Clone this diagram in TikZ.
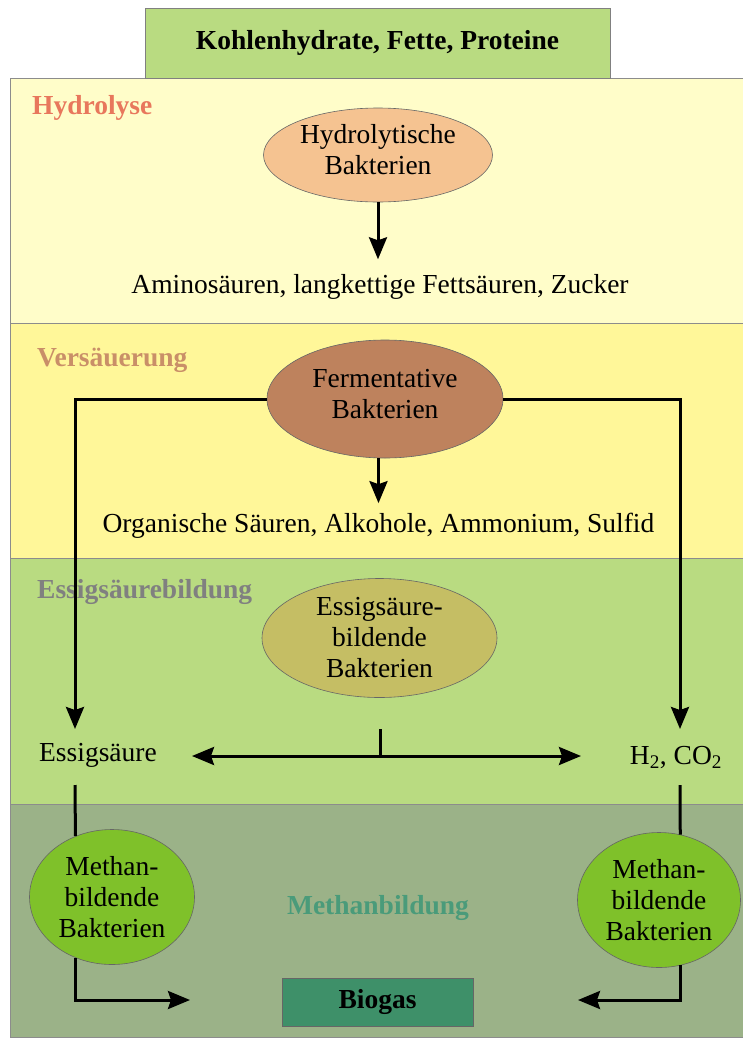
\documentclass[tikz,border=0pt]{standalone}
\usepackage{fontspec}
\setmainfont{Liberation Serif}
\usetikzlibrary{shapes.geometric,arrows.meta}

\definecolor{startgreen}{HTML}{B9DB81}
\definecolor{hydband}{HTML}{FFFDC9}
\definecolor{versband}{HTML}{FFF799}
\definecolor{essigband}{HTML}{B9DB81}
\definecolor{methband}{HTML}{9BB288}
\definecolor{hydbak}{HTML}{F5C391}
\definecolor{fermbak}{HTML}{BE825D}
\definecolor{essigbak}{HTML}{C5BE64}
\definecolor{methbak}{HTML}{7FC12A}
\definecolor{biogasbox}{HTML}{3E9069}
\definecolor{hydtext}{HTML}{E8775C}
\definecolor{verstext}{HTML}{C98F68}
\definecolor{essigtext}{HTML}{808080}
\definecolor{methtext}{HTML}{4A9B7A}

\begin{document}
\begin{tikzpicture}
[
    x=1pt, y=-1pt,
    font=\fontsize{27.5}{31}\selectfont,
    band/.style={draw=black!45, line width=.8pt},
    phase/.style={font=\fontsize{27.5}{31}\selectfont\bfseries, anchor=west, inner sep=2pt},
    label/.style={inner sep=2pt},
    bakt/.style={ellipse, draw=black!60, line width=.6pt, inner sep=0pt, align=center},
    flow/.style={line width=3pt, -{Stealth[length=22pt,width=18pt,inset=3pt]}},
    link/.style={line width=3pt},
]
\useasboundingbox (0,0) rectangle (743,1039);
\fill[white] (0,0) rectangle (743,1039);

% bands
\filldraw[band, fill=hydband] (10,78) rectangle (743,323);
\filldraw[band, fill=versband] (10,323) rectangle (743,558);
\filldraw[band, fill=essigband] (10,558) rectangle (743,804);
\filldraw[band, fill=methband] (10,804) rectangle (743,1037);

\node [draw=black!50, fill=startgreen, minimum width=465pt, minimum height=70pt,
    font=\fontsize{27.5}{31}\selectfont\bfseries] (input) at (377.5,43)
{Kohlenhydrate, Fette, Proteine};

% Hydrolyse
\node [phase, text=hydtext] (hydro) at (30,108) {Hydrolyse};
\node [bakt, fill=hydbak, minimum width=229pt, minimum height=94pt] (hb) at (378,155)
{Hydrolytische\\Bakterien\\[-20pt]};
\node [label] (amino) at (380,287) {Aminosäuren, langkettige Fettsäuren, Zucker};
\draw [flow, shorten >=13pt] (hb.south) -- (hb.south |- amino.north);

% Versaeuerung
\node [phase, text=verstext] (vers) at (35,360) {Versäuerung};
\node [bakt, fill=fermbak, minimum width=236pt, minimum height=118pt] (fb) at (385,399)
{Fermentative\\Bakterien\\[-20pt]};
\node [label] (org) at (378.5,526) {Organische Säuren, Alkohole, Ammonium, Sulfid};
\draw [flow, shorten >=8pt] (fb.south -| org.north) -- (org.north);

% Essigsaeurebildung
\node [phase, text=essigtext] (essbild) at (35,592) {Essigsäurebildung};
\node [bakt, fill=essigbak, minimum width=235pt, minimum height=119pt] (eb) at (379.5,638)
{Essigsäure-\\bildende\\Bakterien};
\node [label] (essig) at (98,755) {Essigsäure};
\node [label] (gas) at (676,757) {H\textsubscript{2}, CO\textsubscript{2}};
\coordinate (essigin) at (75,729);
\coordinate (gasin) at (680,729);
\draw [flow] (fb.west) -| (essigin);
\draw [flow] (fb.east) -| (gasin);
\coordinate (tick) at (380,729);
\coordinate (split) at (380,756);
\coordinate (toessig) at (192,756);
\coordinate (togas) at (581,756);
\draw [link] (tick) -- (split);
\draw [link, {Stealth[length=22pt,width=18pt,inset=3pt]}-{Stealth[length=22pt,width=18pt,inset=3pt]}] (toessig) -- (togas);

% Methanbildung
\node [font=\fontsize{27.5}{31}\selectfont\bfseries, text=methtext] (methbild) at (378,908) {Methanbildung};
\node [bakt, fill=methbak, minimum width=165pt, minimum height=135pt] (m1) at (112,897)
{Methan-\\bildende\\Bakterien};
\node [bakt, fill=methbak, minimum width=163pt, minimum height=135pt] (m2) at (659,900)
{Methan-\\bildende\\Bakterien};
\node [draw=black!60, fill=biogasbox, minimum width=191pt, minimum height=48pt,
    font=\fontsize{27.5}{31}\selectfont\bfseries] (biogas) at (377.5,1002) {Biogas};
\coordinate (essigout) at (75,785);
\coordinate (gasout) at (680,785);
\coordinate (left) at (190,1000);
\coordinate (right) at (578,1000);
\draw [link] (essigout) -- (m1.121.5);
\draw [link] (gasout) -- (m2.72.1);
\draw [flow] (m1.-121.5) |- (left);
\draw [flow] (m2.-72.1) |- (right);
\end{tikzpicture}
\end{document}
